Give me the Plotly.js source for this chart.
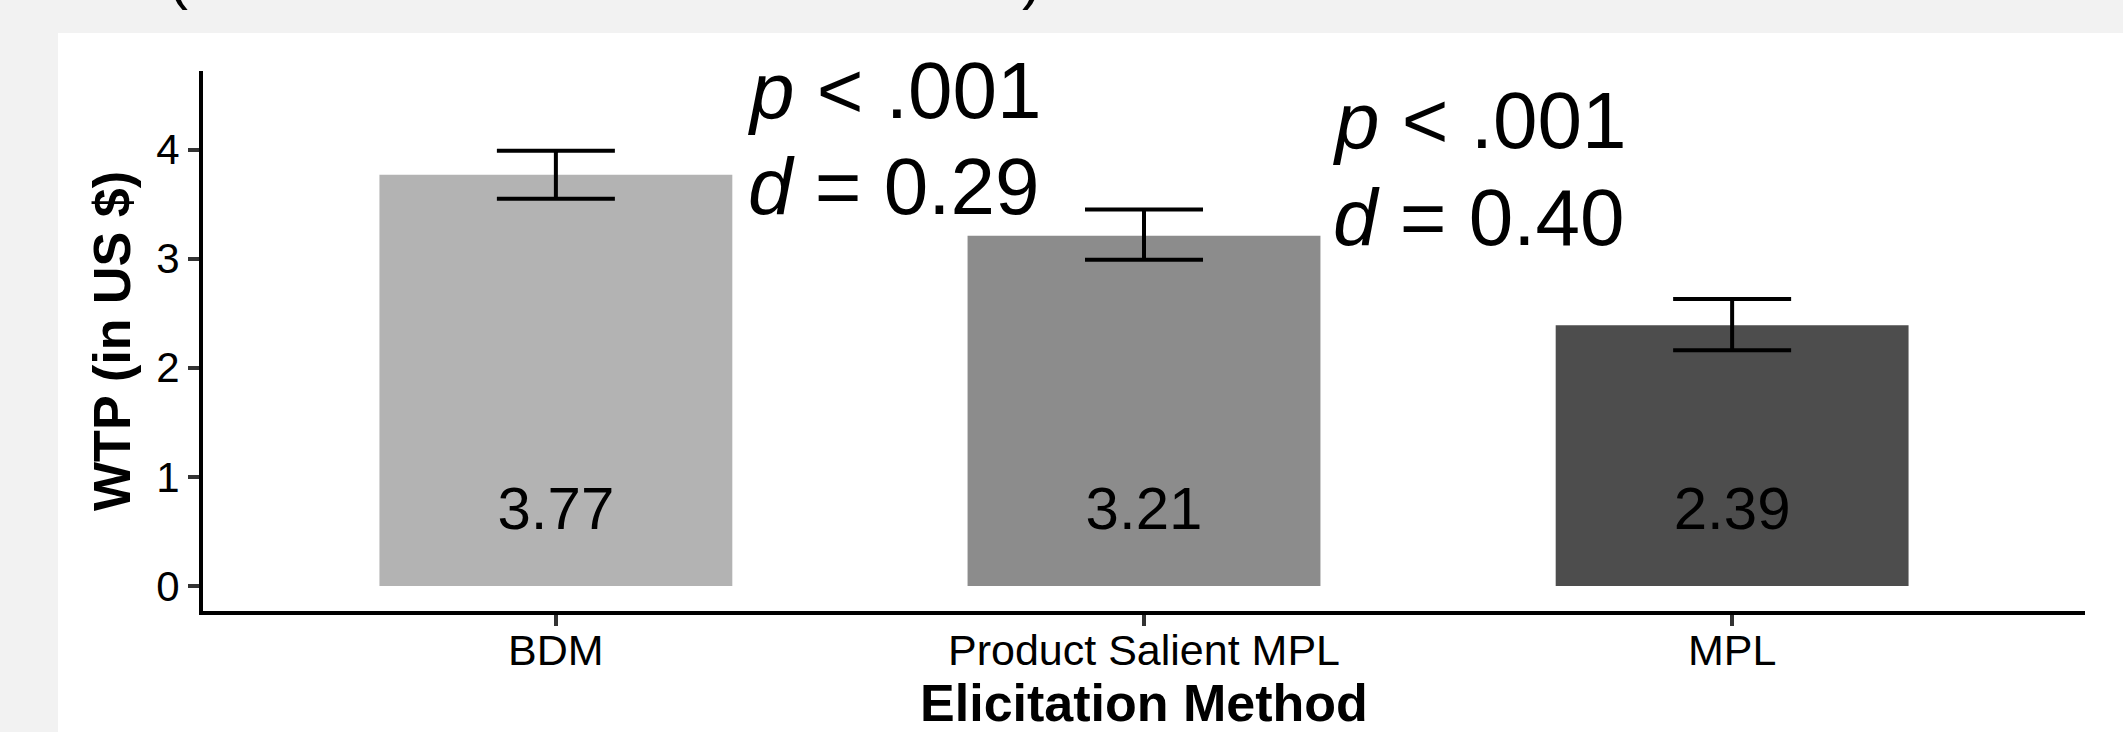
<!DOCTYPE html>
<html>
<head>
<meta charset="utf-8">
<script src="https://cdn.plot.ly/plotly-3.0.1.min.js"></script>
<style>
  html, body { margin: 0; padding: 0; background: #f2f2f2; }
  #chart { width: 2123px; height: 732px; }
</style>
</head>
<body>
<div id="chart"></div>
<script>
// ---- data ----
const categories = ['BDM', 'Product Salient MPL', 'MPL'];
const meanWTP = [3.77, 3.21, 2.39];
const ciLower = [3.55, 2.99, 2.16];
const ciUpper = [3.99, 3.45, 2.63];
const barColors = ['#b3b3b3', '#8c8c8c', '#4d4d4d'];
const yTickVals = [0, 1, 2, 3, 4];
const statP = ['<i>p</i> < .001', '<i>p</i> < .001'];
const statD = ['<i>d</i> = 0.29', '<i>d</i> = 0.40'];

// ---- layout constants ----
const FONT = '"Liberation Sans", Arial, Helvetica, sans-serif';
const labelY = 0.66;
const statX = [0.324, 1.318];
const statPY = [4.54, 4.27];
const statDY = [3.66, 3.38];

const barTrace = {
  type: 'bar',
  x: categories,
  y: meanWTP,
  width: 0.6,
  marker: { color: barColors, line: { width: 0 } },
  error_y: {
    type: 'data',
    symmetric: false,
    array: ciUpper.map((u, i) => u - meanWTP[i]),
    arrayminus: ciLower.map((l, i) => meanWTP[i] - l),
    color: '#000000',
    thickness: 4,
    width: 59
  },
  hoverinfo: 'none',
  showlegend: false
};

const labelTrace = {
  type: 'scatter',
  mode: 'text',
  x: categories,
  y: categories.map(() => labelY),
  text: meanWTP.map(v => v.toFixed(2)),
  textposition: 'middle center',
  textfont: { family: FONT, size: 60, color: '#000000' },
  cliponaxis: false,
  hoverinfo: 'none',
  showlegend: false
};

const annotations = [];
statP.forEach((t, i) => {
  annotations.push({ x: statX[i], y: statPY[i], xref: 'x', yref: 'y', text: t,
    showarrow: false, xanchor: 'left', yanchor: 'middle',
    font: { family: FONT, size: 80, color: '#000000' } });
  annotations.push({ x: statX[i], y: statDY[i], xref: 'x', yref: 'y', text: statD[i],
    showarrow: false, xanchor: 'left', yanchor: 'middle',
    font: { family: FONT, size: 80, color: '#000000' } });
});
// clipped parentheses of the heading above the panel (cut off in the original too)
annotations.push({ x: -0.0133, y: 1.1074, xref: 'paper', yref: 'paper', text: '(',
  showarrow: false, xanchor: 'center', yanchor: 'bottom',
  font: { family: FONT, size: 60, color: '#000000' } });
annotations.push({ x: 0.4405, y: 1.1074, xref: 'paper', yref: 'paper', text: ')',
  showarrow: false, xanchor: 'center', yanchor: 'bottom',
  font: { family: FONT, size: 60, color: '#000000' } });

const layout = {
  width: 2123,
  height: 732,
  margin: { l: 203, r: 38, t: 71, b: 121, pad: 0 },
  paper_bgcolor: '#f2f2f2',
  plot_bgcolor: '#ffffff',
  font: { family: FONT, color: '#000000' },
  showlegend: false,
  bargap: 0.4,
  shapes: [{
    type: 'rect', xref: 'paper', yref: 'paper',
    x0: -0.07705, x1: 1.05, y0: -0.4, y1: 1.0704,
    fillcolor: '#ffffff', line: { width: 0 }, layer: 'below'
  }],
  xaxis: {
    type: 'category',
    categoryorder: 'array',
    categoryarray: categories,
    range: [-0.6, 2.6],
    showline: true, linecolor: '#000000', linewidth: 4,
    ticks: 'outside', ticklen: 11, tickwidth: 4, tickcolor: '#333333',
    ticklabelstandoff: -13,
    tickfont: { family: FONT, size: 43, color: '#000000' },
    showgrid: false, zeroline: false, fixedrange: true,
    title: { text: '<b>Elicitation Method</b>', font: { family: FONT, size: 52, color: '#000000' }, standoff: 21 }
  },
  yaxis: {
    range: [-0.23, 4.72],
    tickvals: yTickVals,
    showline: true, linecolor: '#000000', linewidth: 4,
    ticks: 'outside', ticklen: 11, tickwidth: 4, tickcolor: '#333333',
    tickfont: { family: FONT, size: 42, color: '#000000' },
    showgrid: false, zeroline: false, fixedrange: true,
    title: { text: '<b>WTP (in US $)</b>', font: { family: FONT, size: 52, color: '#000000' }, standoff: 10 }
  },
  annotations: annotations
};

Plotly.newPlot('chart', [barTrace, labelTrace], layout, { displayModeBar: false, staticPlot: true });
</script>
</body>
</html>
